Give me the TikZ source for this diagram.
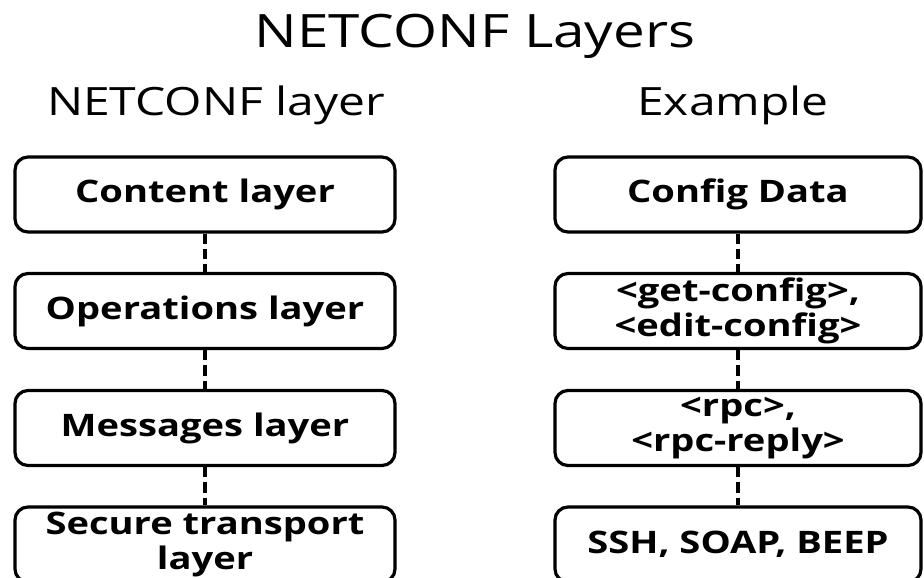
\documentclass[tikz,border=0pt]{standalone}
\usepackage{fontspec}
\setmainfont[FakeStretch=1.23]{Open Sans}
\begin{document}
\begin{tikzpicture}[x=1pt,y=1pt,
    layerbox/.style={draw,line width=3.2pt,rounded corners=13pt,inner sep=0pt,
        minimum height=75pt,align=center,
        font=\bfseries\fontsize{31}{35}\selectfont},
    leftbox/.style={layerbox,minimum width=380pt},
    rightbox/.style={layerbox,minimum width=366pt},
    head/.style={anchor=base,font=\fontsize{39}{44}\selectfont},
    link/.style={line width=4pt,dash pattern=on 10.3pt off 5pt}]
    \useasboundingbox (0,0) rectangle (924,-578);
    \clip (0,0) rectangle (924,-578);
    \node[anchor=base,font=\fontsize{46}{52}\selectfont] (title) at (475,-48) {NETCONF Layers};
    \node[head] (lefthead) at (216,-115) {NETCONF layer};
    \node[head] (righthead) at (733,-115) {Example};
    % NETCONF layer column
    \node[leftbox] (content) at (205,-194.5) {Content layer};
    \node[leftbox] (operations) at (205,-311) {Operations layer};
    \node[leftbox] (messages) at (205,-428) {Messages layer};
    \node[leftbox] (transport) at (205,-544.5) {Secure transport\\layer};
    % example column
    \node[rightbox] (config) at (738,-194.5) {Config Data};
    \node[rightbox] (ops) at (738,-311) {<get-config>,\\<edit-config>};
    \node[rightbox] (rpc) at (738,-428) {<rpc>,\\<rpc-reply>};
    \node[rightbox] (ssh) at (738,-544.5) {SSH, SOAP, BEEP};
    \foreach \a/\b in {content/operations,operations/messages,messages/transport,
                       config/ops,ops/rpc,rpc/ssh}
        \draw[link] (\a) -- (\b);
\end{tikzpicture}
\end{document}
